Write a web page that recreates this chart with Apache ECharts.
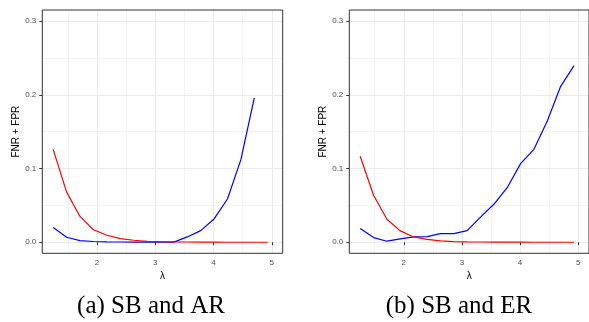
<!DOCTYPE html>
<html>
<head>
<meta charset="utf-8">
<script src="https://cdn.jsdelivr.net/npm/echarts@6/dist/echarts.min.js"></script>
<style>html,body{margin:0;padding:0;background:#fff}#c{width:589px;height:322px}</style>
</head>
<body>
<div id="c"></div>
<script>
const lambda = [1.25,1.48,1.71,1.94,2.17,2.40,2.63,2.86,3.09,3.32,3.55,3.78,4.01,4.24,4.47,4.70,4.93];
const arRed  = [0.1256,0.068,0.035,0.017,0.0095,0.005,0.0027,0.0013,0.0008,0.0005,0.0003,0.0002,0.0001,0,0,0,0];
const arBlue = [0.0199,0.0068,0.0023,0.001,0.0005,0.0003,0.0002,0.0002,0.0001,0.0001,0.0072,0.0158,0.0316,0.0587,0.112,0.1957];
const erRed  = [0.1166,0.0637,0.0312,0.0154,0.0072,0.004,0.0018,0.0009,0.0005,0.0003,0.0002,0.0001,0.0001,0,0,0,0];
const erBlue = [0.0185,0.0063,0.0014,0.0045,0.0072,0.0077,0.0117,0.0117,0.0158,0.034,0.0515,0.074,0.1066,0.126,0.1645,0.2115,0.2395];
const xTicks = [2,3,4,5];
const xMinor = [1.5,2.5,3.5,4.5];
const yTicks = [0,0.1,0.2,0.3];
const yMinor = [0.05,0.15,0.25];
const captions = ['(a) SB and AR','(b) SB and ER'];
const xTitle = 'λ';
const yTitle = 'FNR + FPR';

const pair = (xs, ys) => ys.map((y, i) => [xs[i], y]);
const chart = echarts.init(document.getElementById('c'), null, {renderer: 'canvas'});

const grids = [
  {left: 42.3, top: 10, width: 240.4, height: 243.3},
  {left: 349.3, top: 10, width: 240, height: 243.3}
];
const sans = 'Liberation Sans';
function xAxis(i) {
  return {
    type: 'value', gridIndex: i, min: 1.0625, max: 5.1875,
    name: xTitle, nameLocation: 'middle', nameGap: 14,
    nameTextStyle: {color: '#000', fontSize: 10, fontFamily: sans},
    axisLine: {show: false},
    axisTick: {show: true, length: 3, lineStyle: {color: '#333'}, customValues: xTicks},
    axisLabel: {color: '#4d4d4d', fontSize: 8, fontFamily: sans, margin: 5, customValues: xTicks},
    splitLine: {show: false}
  };
}
function yAxis(i) {
  return {
    type: 'value', gridIndex: i, min: -0.015, max: 0.315,
    name: yTitle, nameLocation: 'middle', nameGap: 20,
    nameTextStyle: {color: '#000', fontSize: 10, fontFamily: sans},
    axisLine: {show: false},
    axisTick: {show: true, length: 3, lineStyle: {color: '#333'}, customValues: yTicks},
    axisLabel: {color: '#4d4d4d', fontSize: 8, fontFamily: sans, margin: 6, customValues: yTicks,
      formatter: v => v.toFixed(1)},
    splitLine: {show: false}
  };
}
function gridSeries(i) {
  const major = {color: '#ebebeb', width: 1, type: 'solid'};
  const minor = {color: '#f4f4f4', width: 1, type: 'solid'};
  const d = [];
  yMinor.forEach(v => d.push({yAxis: v, lineStyle: minor}));
  xMinor.forEach(v => d.push({xAxis: v, lineStyle: minor}));
  yTicks.forEach(v => d.push({yAxis: v, lineStyle: major}));
  xTicks.forEach(v => d.push({xAxis: v, lineStyle: major}));
  return {
    type: 'line', xAxisIndex: i, yAxisIndex: i, data: [], silent: true, z: 0,
    markLine: {silent: true, z: 0, symbol: 'none', label: {show: false}, animation: false, data: d}
  };
}
function line(i, data, color) {
  return {type: 'line', xAxisIndex: i, yAxisIndex: i, data: data, showSymbol: false,
    lineStyle: {color: color, width: 1.2}, itemStyle: {color: color}, z: 10, animation: false};
}
chart.setOption({
  animation: false,
  grid: grids.map(g => Object.assign({show: true, borderColor: '#333333', borderWidth: 1, backgroundColor: 'transparent', z: 20}, g)),
  xAxis: [xAxis(0), xAxis(1)],
  yAxis: [yAxis(0), yAxis(1)],
  title: [
    {text: captions[0], left: 146, top: 289, textAlign: 'center',
      textStyle: {fontFamily: 'Liberation Serif', fontWeight: 'normal', fontSize: 25, color: '#000'}},
    {text: captions[1], left: 454, top: 289, textAlign: 'center',
      textStyle: {fontFamily: 'Liberation Serif', fontWeight: 'normal', fontSize: 25, color: '#000'}}
  ],
  series: [
    gridSeries(0), gridSeries(1),
    line(0, pair(lambda, arBlue), '#0000ff'),
    line(0, pair(lambda, arRed), '#ff0000'),
    line(1, pair(lambda, erBlue), '#0000ff'),
    line(1, pair(lambda, erRed), '#ff0000')
  ]
});
</script>
</body>
</html>
